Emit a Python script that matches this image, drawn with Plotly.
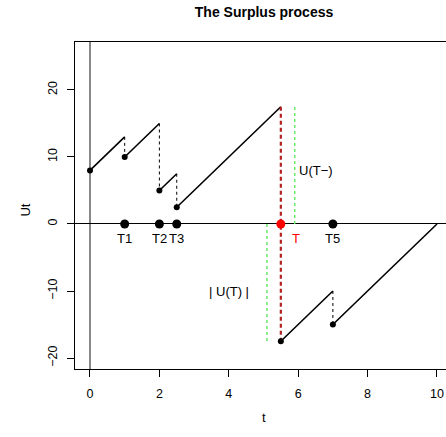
"""Surplus process (Cramer-Lundberg style) sketch."""

import plotly.graph_objects as go

# linear pieces of the surplus path: start/end of each inter-claim period
seg_start_t = [0, 1, 2, 2.5, 5.5, 7]
seg_start_u = [8, 10, 5, 2.5, -17.5, -15]
seg_end_t = [1, 2, 2.5, 5.5, 7, 10]
seg_end_u = [13, 15, 7.5, 17.5, -10, 0]

# claim arrival times and their labels
claim_times = [1, 2, 2.5, 5.5, 7]
claim_labels = ["T1", "T2", "T3", "T", "T5"]
ruin_index = 3

# markers for U(T-) and |U(T)|
u_before_t = 5.9
u_before_top = 17.5
u_after_t = 5.1
u_after_bottom = -17.5

FONT = "Liberation Sans, Arial, sans-serif"
GREEN = "#66E866"
DARKRED = "#B22222"

fig = go.Figure()

# rising segments
for t0, u0, t1, u1 in zip(seg_start_t, seg_start_u, seg_end_t, seg_end_u):
    fig.add_trace(go.Scatter(x=[t0, t1], y=[u0, u1], mode="lines",
                             line=dict(color="black", width=1.6),
                             hoverinfo="skip"))

# claim jumps (dashed)
for i, t in enumerate(claim_times):
    top, bottom = seg_end_u[i], seg_start_u[i + 1]
    ruin = i == ruin_index
    fig.add_trace(go.Scatter(
        x=[t, t], y=[top, bottom], mode="lines",
        line=dict(color=DARKRED if ruin else "black",
                  width=2.2 if ruin else 1, dash="4px,3px" if ruin else "3px,3px"),
        hoverinfo="skip"))

# start points of each segment
fig.add_trace(go.Scatter(x=seg_start_t, y=seg_start_u, mode="markers",
                         marker=dict(color="black", size=6, line=dict(width=0))))

# green helper lines
fig.add_trace(go.Scatter(x=[u_before_t, u_before_t], y=[0, u_before_top],
                         mode="lines", line=dict(color=GREEN, width=1.5, dash="3px,3px")))
fig.add_trace(go.Scatter(x=[u_after_t, u_after_t], y=[0, u_after_bottom],
                         mode="lines", line=dict(color=GREEN, width=1.5, dash="3px,3px")))

# claim times on the axis
colors = ["red" if i == ruin_index else "black" for i in range(len(claim_times))]
fig.add_trace(go.Scatter(x=claim_times, y=[0] * len(claim_times), mode="markers",
                         marker=dict(color=colors, size=9, opacity=1,
                                     line=dict(width=0))))

for i, (t, lab) in enumerate(zip(claim_times, claim_labels)):
    fig.add_annotation(x=t + (0.45 if i == ruin_index else 0), y=-2.2, text=lab,
                       showarrow=False, font=dict(size=13, color=colors[i], family=FONT))

fig.add_annotation(x=u_before_t + 0.08, y=8, text="U(T\u2212)", xanchor="left",
                   showarrow=False, font=dict(size=13, color="black", family=FONT))
fig.add_annotation(x=4.65, y=-10, text="| U(T) |", xanchor="right",
                   showarrow=False, font=dict(size=13, color="black", family=FONT))

# axis titles placed like R's mtext
fig.add_annotation(x=0.509, y=-0.177, xref="paper", yref="paper", text="t",
                   showarrow=False, font=dict(size=13, family=FONT))
fig.add_annotation(x=-0.159, y=0.486, xref="paper", yref="paper", text="Ut",
                   textangle=-90, showarrow=False, font=dict(size=13, family=FONT))

fig.update_layout(
    width=446, height=437,
    margin=dict(l=75, r=0, t=42, b=68),
    paper_bgcolor="white", plot_bgcolor="white",
    showlegend=False,
    font=dict(family=FONT, size=12, color="black"),
    title=dict(text="<b>The Surplus process</b>", x=0.592, xanchor="center",
               y=0.973, yanchor="middle", font=dict(size=14)),
    xaxis=dict(range=[-0.432, 10.26], tickvals=[0, 2, 4, 6, 8, 10],
               ticks="outside", ticklen=7, tickcolor="black", automargin=False,
               ticklabelstandoff=6, tickfont=dict(size=12.5),
               showline=True, linecolor="black", mirror=True,
               showgrid=False, zeroline=True, zerolinecolor="#888888", zerolinewidth=1.5),
    yaxis=dict(range=[-21.64, 27.16], tickvals=[-20, -10, 0, 10, 20],
               ticktext=["\u221220", "\u221210", "0", "10", "20"], tickangle=-90,
               ticks="outside", ticklen=7, tickcolor="black", automargin=False,
               ticklabelstandoff=5, tickfont=dict(size=12.5),
               showline=True, linecolor="black",
               showgrid=False, zeroline=True, zerolinecolor="black", zerolinewidth=1.2),
)

# drop the browser's default body margin so the figure fills the window
fig.write_html("out.html", config={"displayModeBar": False},
               post_script="document.body.style.margin='0';"
                           "document.body.style.overflow='hidden';")
